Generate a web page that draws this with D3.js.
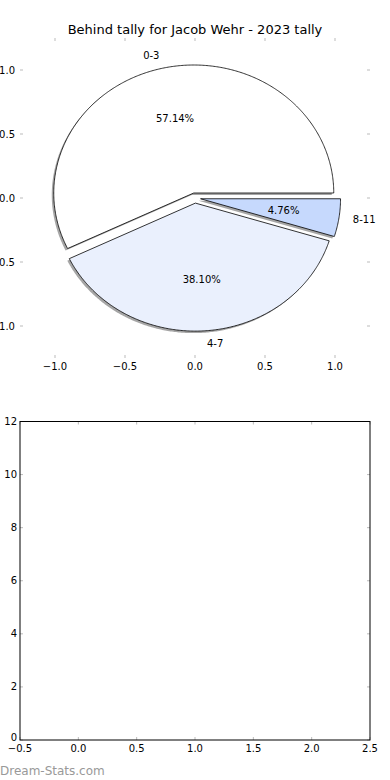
<!DOCTYPE html>
<html><head><meta charset="utf-8">
<script src="https://cdn.jsdelivr.net/npm/d3@7"></script>
<style>
body{margin:0;background:#fff;}
svg{display:block;font-family:"DejaVu Sans",sans-serif;}
</style></head>
<body>
<svg id="c" width="390" height="780"></svg>
<script>
const title = "Behind tally for Jacob Wehr - 2023 tally";
const categories = ["0-3", "4-7", "8-11"];
const counts = [12, 8, 1];
const colors = ["#ffffff", "#eaf0fd", "#c6d9fd"];
const explode = [0.04, 0.04, 0.04];
const pieTicks = [-1.0, -0.5, 0.0, 0.5, 1.0];
const barXTicks = [-0.5, 0.0, 0.5, 1.0, 1.5, 2.0, 2.5];
const barYTicks = [0, 2, 4, 6, 8, 10, 12];

const svg = d3.select("#c");
const fmt = d => d3.format(".1f")(d).replace("-", "\u2212");

// ---- Pie axes ----
const px = d3.scaleLinear().domain([-1.25, 1.25]).range([20, 370]);
const py = d3.scaleLinear().domain([-1.25, 1.25]).range([358, 38]);

svg.append("text").attr("x", 195).attr("y", 34).attr("text-anchor", "middle")
  .attr("font-size", 13).attr("fill", "#000").text(title);

const tickCol = "#bbbbbb";
const gp = svg.append("g");
pieTicks.forEach(t => {
  gp.append("line").attr("x1", px(t)).attr("x2", px(t)).attr("y1", py(1.25)).attr("y2", py(1.25) + 3).attr("stroke", tickCol);
  gp.append("line").attr("x1", px(t)).attr("x2", px(t)).attr("y1", py(-1.25)).attr("y2", py(-1.25) - 3).attr("stroke", tickCol);
  gp.append("text").attr("x", px(t)).attr("y", py(-1.25) + 12).attr("text-anchor", "middle")
    .attr("font-size", 10).text(fmt(t));
  gp.append("line").attr("x1", px(-1.25)).attr("x2", px(-1.25) + 3).attr("y1", py(t)).attr("y2", py(t)).attr("stroke", tickCol);
  gp.append("line").attr("x1", px(1.25)).attr("x2", px(1.25) - 3).attr("y1", py(t)).attr("y2", py(t)).attr("stroke", tickCol);
  gp.append("text").attr("x", px(-1.25) - 5).attr("y", py(t)).attr("dy", "0.35em").attr("text-anchor", "end")
    .attr("font-size", 10).text(fmt(t));
});

const total = d3.sum(counts);
const arcs = d3.pie().sort(null).value(d => d)(counts);

function wedgePts(a, i) {
  const mid = (a.startAngle + a.endAngle) / 2;
  const cx = explode[i] * Math.cos(mid), cy = explode[i] * Math.sin(mid);
  const n = Math.max(8, Math.ceil((a.endAngle - a.startAngle) / 0.01));
  const pts = [[cx, cy]];
  for (let k = 0; k <= n; k++) {
    const th = a.startAngle + (a.endAngle - a.startAngle) * k / n;
    pts.push([cx + Math.cos(th), cy + Math.sin(th)]);
  }
  return pts;
}
const line = d3.line().x(d => px(d[0])).y(d => py(d[1]));

const gShadow = svg.append("g").attr("transform", "translate(-2,2)");
const gWedge = svg.append("g");
arcs.forEach((a, i) => {
  const p = line(wedgePts(a, i)) + "Z";
  gShadow.append("path").attr("d", p).attr("fill", "#4d4d4d").attr("fill-opacity", 0.5).attr("stroke", "none");
});
arcs.forEach((a, i) => {
  const p = line(wedgePts(a, i)) + "Z";
  gWedge.append("path").attr("d", p).attr("fill", colors[i]).attr("stroke", "#000").attr("stroke-width", 0.8);
});
arcs.forEach((a, i) => {
  const mid = (a.startAngle + a.endAngle) / 2;
  const ex = explode[i] * Math.cos(mid), ey = explode[i] * Math.sin(mid);
  const lx = ex + 1.1 * Math.cos(mid), ly = ey + 1.1 * Math.sin(mid);
  svg.append("text").attr("x", px(lx)).attr("y", py(ly)).attr("dy", "0.35em")
    .attr("text-anchor", lx < 0 ? "end" : "start").attr("font-size", 10).text(categories[i]);
  const tx = ex + 0.6 * Math.cos(mid), ty = ey + 0.6 * Math.sin(mid);
  svg.append("text").attr("x", px(tx)).attr("y", py(ty)).attr("dy", "0.35em")
    .attr("text-anchor", "middle").attr("font-size", 10)
    .text(d3.format(".2f")(100 * counts[i] / total) + "%");
});

// ---- Empty bottom axes ----
const bx = d3.scaleLinear().domain([-0.5, 2.5]).range([20, 370]);
const by = d3.scaleLinear().domain([0, 12]).range([740, 421.5]);
const gb = svg.append("g");
barXTicks.forEach(t => {
  gb.append("line").attr("x1", bx(t)).attr("x2", bx(t)).attr("y1", by(0)).attr("y2", by(0) - 3).attr("stroke", tickCol);
  gb.append("line").attr("x1", bx(t)).attr("x2", bx(t)).attr("y1", by(12)).attr("y2", by(12) + 3).attr("stroke", tickCol);
  gb.append("text").attr("x", bx(t)).attr("y", by(0) + 12).attr("text-anchor", "middle")
    .attr("font-size", 10).text(fmt(t));
});
barYTicks.forEach(t => {
  gb.append("line").attr("x1", bx(-0.5)).attr("x2", bx(-0.5) + 3).attr("y1", by(t)).attr("y2", by(t)).attr("stroke", tickCol);
  gb.append("line").attr("x1", bx(2.5)).attr("x2", bx(2.5) - 3).attr("y1", by(t)).attr("y2", by(t)).attr("stroke", tickCol);
  gb.append("text").attr("x", bx(-0.5) - 3).attr("y", by(t) - (t === 0 ? 3 : 0)).attr("dy", "0.35em").attr("text-anchor", "end")
    .attr("font-size", 10).text(t);
});
gb.append("rect").attr("x", bx(-0.5)).attr("y", by(12)).attr("width", bx(2.5) - bx(-0.5)).attr("height", by(0) - by(12))
  .attr("fill", "none").attr("stroke", "#000").attr("stroke-width", 1);

svg.append("text").attr("x", 0).attr("y", 775).attr("font-size", 12)
  .attr("fill", "#999999").text("Dream-Stats.com");
</script>
</body></html>
